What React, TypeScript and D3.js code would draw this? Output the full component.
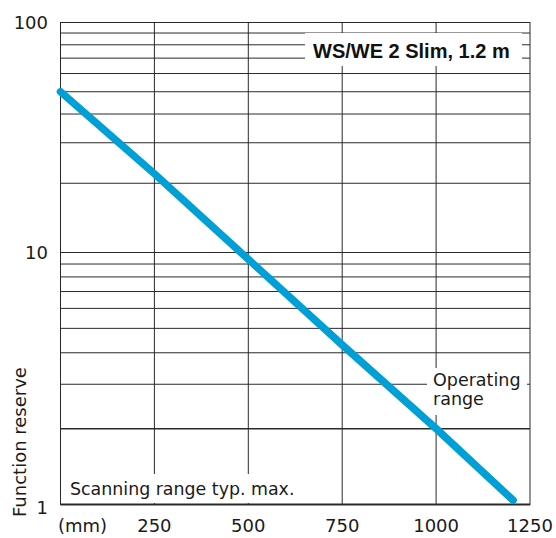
import React from "react";
import * as d3 from "d3";

const xTicks = [250, 500, 750, 1000, 1250];
const xGrid = [250, 500, 750, 1000];
const yLabels = [1, 10, 100];
const yGrid = [2, 3, 4, 5, 6, 7, 8, 9, 10, 20, 30, 40, 50, 60, 70, 80, 90];
const curveDist = [0, 250, 500, 750, 1000, 1205];
const curveReserve = [50, 22, 9.4, 4.3, 2, 1.04];

const FONT = "'DejaVu Sans', Verdana, sans-serif";
const TITLE_FONT = "'Liberation Sans', Arial, sans-serif";

export default function App() {
  const W = 556;
  const H = 538;
  const x = d3.scaleLinear().domain([0, 1250]).range([60.5, 530]);
  const y = d3.scaleLog().domain([1, 10, 100]).range([504.5, 252.5, 22.5]);
  const pts = curveDist.map((d, i) => [d, curveReserve[i]] as [number, number]);
  const line = d3
    .line<[number, number]>()
    .x((d) => x(d[0]))
    .y((d) => y(d[1]));
  const x0 = x(0), x1 = x(1250), y0 = y(1), y1 = y(100);
  const gridColor = "#2a2a2a";
  const textColor = "#1a1a1a";

  return (
    <svg
      width={W}
      height={H}
      style={{ position: "absolute", left: 0, top: 0, background: "#fff" }}
      fontFamily={FONT}
    >
      <rect x={0} y={0} width={W} height={H} fill="#fff" />
      {yGrid.map((v) => (
        <line key={"h" + v} x1={x0} x2={x1} y1={y(v)} y2={y(v)} stroke={gridColor} strokeWidth={v === 2 ? 1.5 : 1} />
      ))}
      {xGrid.map((v) => (
        <line key={"v" + v} x1={x(v)} x2={x(v)} y1={y1} y2={y0} stroke={gridColor} strokeWidth={1} />
      ))}
      <rect x={x0} y={y1} width={x1 - x0} height={y0 - y1} fill="none" stroke={gridColor} strokeWidth={1} />
      <line x1={x0} x2={x1} y1={y0} y2={y0} stroke={gridColor} strokeWidth={2} />

      {/* white label boxes */}
      <rect x={305} y={33} width={217} height={33} fill="#fff" />
      <rect x={427} y={368} width={100} height={47} fill="#fff" />
      <rect x={62} y={474} width={238} height={29} fill="#fff" />

      <text x={313} y={58} fontSize={20} fontWeight="bold" fontFamily={TITLE_FONT} fill="#111">WS/WE 2 Slim, 1.2 m</text>
      <text x={433} y={386} fontSize={17.5} fill={textColor}>Operating</text>
      <text x={433} y={404.5} fontSize={17.5} fill={textColor}>range</text>
      <text x={70} y={495} fontSize={17.4} fill={textColor}>Scanning range typ. max.</text>

      <path d={line(pts) || ""} fill="none" stroke="#00a0d6" strokeWidth={7.5} strokeLinecap="round" strokeLinejoin="round" />

      {yLabels.map((v) => (
        <text key={"yl" + v} x={48} y={y(v) + (v === 1 ? 3 : 0)} dy="0.36em" fontSize={18} textAnchor="end" fill={textColor}>
          {v}
        </text>
      ))}
      {xTicks.map((v) => (
        <text key={"xl" + v} x={x(v)} y={531.5} fontSize={18} textAnchor="middle" fill={textColor}>
          {v}
        </text>
      ))}
      <text x={58} y={531.5} fontSize={18} fill={textColor}>(mm)</text>
      <text transform="translate(26,517) rotate(-90)" fontSize={18} fill={textColor}>Function reserve</text>
    </svg>
  );
}
